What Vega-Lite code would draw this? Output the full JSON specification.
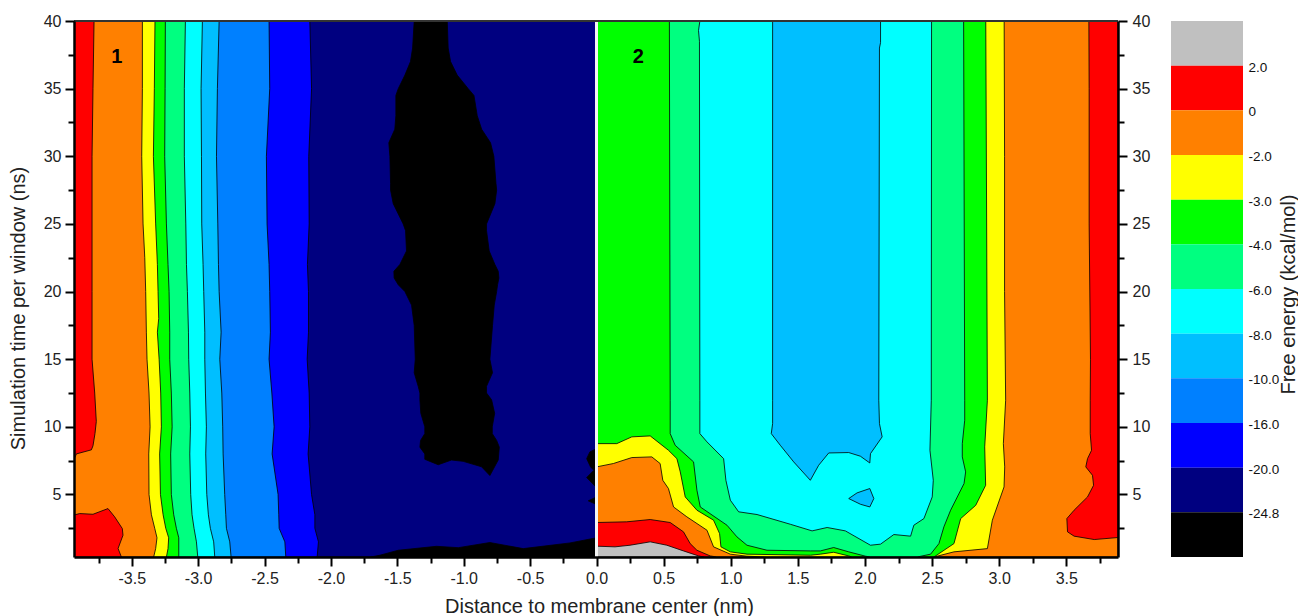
{"$schema":"https://vega.github.io/schema/vega-lite/v6.json","padding":{"left":8,"top":13,"right":0,"bottom":0},"background":"white","bounds":"flush","spacing":53,"config":{"view":{"stroke":null},"font":"Liberation Sans"},
"datasets":{"poly":[
{"p":"bg","l":"red","i":1,"x":-3.935,"y":0.38},{"p":"bg","l":"red","i":2,"x":-3.935,"y":40},{"p":"bg","l":"red","i":3,"x":3.885,"y":40},{"p":"bg","l":"red","i":4,"x":3.885,"y":0.38},
{"p":"Lo","l":"orange","i":1,"x":-3.784,"y":40},{"p":"Lo","l":"orange","i":2,"x":-3.792,"y":35},{"p":"Lo","l":"orange","i":3,"x":-3.799,"y":30},{"p":"Lo","l":"orange","i":4,"x":-3.799,"y":20},{"p":"Lo","l":"orange","i":5,"x":-3.799,"y":15},{"p":"Lo","l":"orange","i":6,"x":-3.779,"y":12.5},{"p":"Lo","l":"orange","i":7,"x":-3.767,"y":10.4},{"p":"Lo","l":"orange","i":8,"x":-3.777,"y":9.5},{"p":"Lo","l":"orange","i":9,"x":-3.792,"y":8.6},{"p":"Lo","l":"orange","i":10,"x":-3.804,"y":8.3},{"p":"Lo","l":"orange","i":11,"x":-3.917,"y":8.0},{"p":"Lo","l":"orange","i":12,"x":-3.93,"y":7.7},{"p":"Lo","l":"orange","i":13,"x":-3.94,"y":3},{"p":"Lo","l":"orange","i":14,"x":-3.94,"y":0.38},{"p":"Lo","l":"orange","i":15,"x":0,"y":0.38},{"p":"Lo","l":"orange","i":16,"x":0,"y":40},
{"p":"Lr","l":"red","i":1,"x":-3.94,"y":0.38},{"p":"Lr","l":"red","i":2,"x":-3.94,"y":3.47},{"p":"Lr","l":"red","i":3,"x":-3.892,"y":3.59},{"p":"Lr","l":"red","i":4,"x":-3.792,"y":3.54},{"p":"Lr","l":"red","i":5,"x":-3.679,"y":3.96},{"p":"Lr","l":"red","i":6,"x":-3.629,"y":3.35},{"p":"Lr","l":"red","i":7,"x":-3.571,"y":2.48},{"p":"Lr","l":"red","i":8,"x":-3.566,"y":1.99},{"p":"Lr","l":"red","i":9,"x":-3.603,"y":1.01},{"p":"Lr","l":"red","i":10,"x":-3.578,"y":0.38},
{"p":"Ly","l":"yellow","i":1,"x":-3.42,"y":40},{"p":"Ly","l":"yellow","i":2,"x":-3.42,"y":35},{"p":"Ly","l":"yellow","i":3,"x":-3.425,"y":30},{"p":"Ly","l":"yellow","i":4,"x":-3.415,"y":25},{"p":"Ly","l":"yellow","i":5,"x":-3.402,"y":22.5},{"p":"Ly","l":"yellow","i":6,"x":-3.395,"y":20},{"p":"Ly","l":"yellow","i":7,"x":-3.39,"y":17},{"p":"Ly","l":"yellow","i":8,"x":-3.385,"y":15},{"p":"Ly","l":"yellow","i":9,"x":-3.37,"y":12.5},{"p":"Ly","l":"yellow","i":10,"x":-3.362,"y":10},{"p":"Ly","l":"yellow","i":11,"x":-3.372,"y":8},{"p":"Ly","l":"yellow","i":12,"x":-3.37,"y":5},{"p":"Ly","l":"yellow","i":13,"x":-3.352,"y":3.5},{"p":"Ly","l":"yellow","i":14,"x":-3.327,"y":2.5},{"p":"Ly","l":"yellow","i":15,"x":-3.31,"y":1.8},{"p":"Ly","l":"yellow","i":16,"x":-3.32,"y":1},{"p":"Ly","l":"yellow","i":17,"x":-3.335,"y":0.38},{"p":"Ly","l":"yellow","i":18,"x":0,"y":0.38},{"p":"Ly","l":"yellow","i":19,"x":0,"y":40},
{"p":"Lg","l":"green","i":1,"x":-3.325,"y":40},{"p":"Lg","l":"green","i":2,"x":-3.33,"y":35},{"p":"Lg","l":"green","i":3,"x":-3.337,"y":30},{"p":"Lg","l":"green","i":4,"x":-3.32,"y":25},{"p":"Lg","l":"green","i":5,"x":-3.307,"y":22},{"p":"Lg","l":"green","i":6,"x":-3.302,"y":20},{"p":"Lg","l":"green","i":7,"x":-3.297,"y":18},{"p":"Lg","l":"green","i":8,"x":-3.307,"y":17},{"p":"Lg","l":"green","i":9,"x":-3.294,"y":15},{"p":"Lg","l":"green","i":10,"x":-3.282,"y":12.5},{"p":"Lg","l":"green","i":11,"x":-3.277,"y":10},{"p":"Lg","l":"green","i":12,"x":-3.29,"y":8},{"p":"Lg","l":"green","i":13,"x":-3.284,"y":5},{"p":"Lg","l":"green","i":14,"x":-3.264,"y":3.5},{"p":"Lg","l":"green","i":15,"x":-3.244,"y":2.5},{"p":"Lg","l":"green","i":16,"x":-3.222,"y":1.8},{"p":"Lg","l":"green","i":17,"x":-3.227,"y":1},{"p":"Lg","l":"green","i":18,"x":-3.239,"y":0.38},{"p":"Lg","l":"green","i":19,"x":0,"y":0.38},{"p":"Lg","l":"green","i":20,"x":0,"y":40},
{"p":"Ls","l":"spring","i":1,"x":-3.247,"y":40},{"p":"Ls","l":"spring","i":2,"x":-3.249,"y":35},{"p":"Ls","l":"spring","i":3,"x":-3.252,"y":30},{"p":"Ls","l":"spring","i":4,"x":-3.239,"y":25},{"p":"Ls","l":"spring","i":5,"x":-3.227,"y":22},{"p":"Ls","l":"spring","i":6,"x":-3.219,"y":20},{"p":"Ls","l":"spring","i":7,"x":-3.214,"y":17},{"p":"Ls","l":"spring","i":8,"x":-3.214,"y":15},{"p":"Ls","l":"spring","i":9,"x":-3.202,"y":12.5},{"p":"Ls","l":"spring","i":10,"x":-3.196,"y":10},{"p":"Ls","l":"spring","i":11,"x":-3.207,"y":8},{"p":"Ls","l":"spring","i":12,"x":-3.202,"y":5},{"p":"Ls","l":"spring","i":13,"x":-3.184,"y":3.5},{"p":"Ls","l":"spring","i":14,"x":-3.164,"y":2.5},{"p":"Ls","l":"spring","i":15,"x":-3.146,"y":1.8},{"p":"Ls","l":"spring","i":16,"x":-3.146,"y":0.38},{"p":"Ls","l":"spring","i":17,"x":0,"y":0.38},{"p":"Ls","l":"spring","i":18,"x":0,"y":40},
{"p":"Lc","l":"cyan","i":1,"x":-3.096,"y":40},{"p":"Lc","l":"cyan","i":2,"x":-3.104,"y":35},{"p":"Lc","l":"cyan","i":3,"x":-3.104,"y":30},{"p":"Lc","l":"cyan","i":4,"x":-3.093,"y":25},{"p":"Lc","l":"cyan","i":5,"x":-3.088,"y":22},{"p":"Lc","l":"cyan","i":6,"x":-3.081,"y":20},{"p":"Lc","l":"cyan","i":7,"x":-3.073,"y":17},{"p":"Lc","l":"cyan","i":8,"x":-3.071,"y":15},{"p":"Lc","l":"cyan","i":9,"x":-3.063,"y":12.5},{"p":"Lc","l":"cyan","i":10,"x":-3.058,"y":10},{"p":"Lc","l":"cyan","i":11,"x":-3.063,"y":8},{"p":"Lc","l":"cyan","i":12,"x":-3.056,"y":5},{"p":"Lc","l":"cyan","i":13,"x":-3.046,"y":3.5},{"p":"Lc","l":"cyan","i":14,"x":-3.031,"y":2.5},{"p":"Lc","l":"cyan","i":15,"x":-3.013,"y":1.5},{"p":"Lc","l":"cyan","i":16,"x":-3.003,"y":0.38},{"p":"Lc","l":"cyan","i":17,"x":0,"y":0.38},{"p":"Lc","l":"cyan","i":18,"x":0,"y":40},
{"p":"Lk","l":"sky","i":1,"x":-2.968,"y":40},{"p":"Lk","l":"sky","i":2,"x":-2.978,"y":35},{"p":"Lk","l":"sky","i":3,"x":-2.975,"y":30},{"p":"Lk","l":"sky","i":4,"x":-2.973,"y":25},{"p":"Lk","l":"sky","i":5,"x":-2.963,"y":22},{"p":"Lk","l":"sky","i":6,"x":-2.958,"y":20},{"p":"Lk","l":"sky","i":7,"x":-2.95,"y":17},{"p":"Lk","l":"sky","i":8,"x":-2.95,"y":15},{"p":"Lk","l":"sky","i":9,"x":-2.945,"y":12.5},{"p":"Lk","l":"sky","i":10,"x":-2.938,"y":10},{"p":"Lk","l":"sky","i":11,"x":-2.943,"y":8},{"p":"Lk","l":"sky","i":12,"x":-2.935,"y":5},{"p":"Lk","l":"sky","i":13,"x":-2.923,"y":3.5},{"p":"Lk","l":"sky","i":14,"x":-2.908,"y":2.5},{"p":"Lk","l":"sky","i":15,"x":-2.883,"y":1.5},{"p":"Lk","l":"sky","i":16,"x":-2.875,"y":0.38},{"p":"Lk","l":"sky","i":17,"x":0,"y":0.38},{"p":"Lk","l":"sky","i":18,"x":0,"y":40},
{"p":"La","l":"azure","i":1,"x":-2.842,"y":40},{"p":"La","l":"azure","i":2,"x":-2.855,"y":35},{"p":"La","l":"azure","i":3,"x":-2.862,"y":30},{"p":"La","l":"azure","i":4,"x":-2.852,"y":25},{"p":"La","l":"azure","i":5,"x":-2.847,"y":22},{"p":"La","l":"azure","i":6,"x":-2.842,"y":20},{"p":"La","l":"azure","i":7,"x":-2.827,"y":17},{"p":"La","l":"azure","i":8,"x":-2.837,"y":15},{"p":"La","l":"azure","i":9,"x":-2.822,"y":12.5},{"p":"La","l":"azure","i":10,"x":-2.815,"y":10},{"p":"La","l":"azure","i":11,"x":-2.812,"y":8},{"p":"La","l":"azure","i":12,"x":-2.8,"y":5},{"p":"La","l":"azure","i":13,"x":-2.792,"y":3.5},{"p":"La","l":"azure","i":14,"x":-2.787,"y":2.5},{"p":"La","l":"azure","i":15,"x":-2.762,"y":1.5},{"p":"La","l":"azure","i":16,"x":-2.752,"y":0.38},{"p":"La","l":"azure","i":17,"x":0,"y":0.38},{"p":"La","l":"azure","i":18,"x":0,"y":40},
{"p":"Lb","l":"blue","i":1,"x":-2.466,"y":40},{"p":"Lb","l":"blue","i":2,"x":-2.461,"y":35},{"p":"Lb","l":"blue","i":3,"x":-2.486,"y":30},{"p":"Lb","l":"blue","i":4,"x":-2.481,"y":25},{"p":"Lb","l":"blue","i":5,"x":-2.466,"y":22},{"p":"Lb","l":"blue","i":6,"x":-2.461,"y":20},{"p":"Lb","l":"blue","i":7,"x":-2.456,"y":17},{"p":"Lb","l":"blue","i":8,"x":-2.466,"y":15},{"p":"Lb","l":"blue","i":9,"x":-2.445,"y":12.5},{"p":"Lb","l":"blue","i":10,"x":-2.428,"y":10},{"p":"Lb","l":"blue","i":11,"x":-2.443,"y":8},{"p":"Lb","l":"blue","i":12,"x":-2.398,"y":5},{"p":"Lb","l":"blue","i":13,"x":-2.393,"y":3.5},{"p":"Lb","l":"blue","i":14,"x":-2.39,"y":2.5},{"p":"Lb","l":"blue","i":15,"x":-2.347,"y":1.5},{"p":"Lb","l":"blue","i":16,"x":-2.34,"y":0.38},{"p":"Lb","l":"blue","i":17,"x":0,"y":0.38},{"p":"Lb","l":"blue","i":18,"x":0,"y":40},
{"p":"Ln","l":"navy","i":1,"x":-2.159,"y":40},{"p":"Ln","l":"navy","i":2,"x":-2.146,"y":35},{"p":"Ln","l":"navy","i":3,"x":-2.167,"y":30},{"p":"Ln","l":"navy","i":4,"x":-2.164,"y":25},{"p":"Ln","l":"navy","i":5,"x":-2.177,"y":22},{"p":"Ln","l":"navy","i":6,"x":-2.169,"y":20},{"p":"Ln","l":"navy","i":7,"x":-2.169,"y":17},{"p":"Ln","l":"navy","i":8,"x":-2.179,"y":15},{"p":"Ln","l":"navy","i":9,"x":-2.164,"y":12.5},{"p":"Ln","l":"navy","i":10,"x":-2.159,"y":10},{"p":"Ln","l":"navy","i":11,"x":-2.172,"y":8},{"p":"Ln","l":"navy","i":12,"x":-2.146,"y":5},{"p":"Ln","l":"navy","i":13,"x":-2.121,"y":3.5},{"p":"Ln","l":"navy","i":14,"x":-2.121,"y":2.5},{"p":"Ln","l":"navy","i":15,"x":-2.094,"y":1.5},{"p":"Ln","l":"navy","i":16,"x":-2.104,"y":0.38},{"p":"Ln","l":"navy","i":17,"x":0,"y":0.38},{"p":"Ln","l":"navy","i":18,"x":0,"y":40},
{"p":"B1","l":"black","i":1,"x":-1.373,"y":40},{"p":"B1","l":"black","i":2,"x":-1.385,"y":38},{"p":"B1","l":"black","i":3,"x":-1.401,"y":37},{"p":"B1","l":"black","i":4,"x":-1.443,"y":36},{"p":"B1","l":"black","i":5,"x":-1.493,"y":35},{"p":"B1","l":"black","i":6,"x":-1.511,"y":34.5},{"p":"B1","l":"black","i":7,"x":-1.511,"y":33},{"p":"B1","l":"black","i":8,"x":-1.519,"y":32},{"p":"B1","l":"black","i":9,"x":-1.564,"y":31},{"p":"B1","l":"black","i":10,"x":-1.556,"y":30},{"p":"B1","l":"black","i":11,"x":-1.551,"y":28},{"p":"B1","l":"black","i":12,"x":-1.551,"y":27.5},{"p":"B1","l":"black","i":13,"x":-1.531,"y":26.5},{"p":"B1","l":"black","i":14,"x":-1.456,"y":25},{"p":"B1","l":"black","i":15,"x":-1.438,"y":24.5},{"p":"B1","l":"black","i":16,"x":-1.431,"y":23},{"p":"B1","l":"black","i":17,"x":-1.481,"y":22},{"p":"B1","l":"black","i":18,"x":-1.526,"y":21.5},{"p":"B1","l":"black","i":19,"x":-1.524,"y":21},{"p":"B1","l":"black","i":20,"x":-1.493,"y":20.5},{"p":"B1","l":"black","i":21,"x":-1.443,"y":20},{"p":"B1","l":"black","i":22,"x":-1.393,"y":19},{"p":"B1","l":"black","i":23,"x":-1.373,"y":17.5},{"p":"B1","l":"black","i":24,"x":-1.365,"y":15},{"p":"B1","l":"black","i":25,"x":-1.373,"y":14},{"p":"B1","l":"black","i":26,"x":-1.343,"y":13},{"p":"B1","l":"black","i":27,"x":-1.33,"y":12.5},{"p":"B1","l":"black","i":28,"x":-1.33,"y":12},{"p":"B1","l":"black","i":29,"x":-1.323,"y":11},{"p":"B1","l":"black","i":30,"x":-1.293,"y":10},{"p":"B1","l":"black","i":31,"x":-1.293,"y":9.5},{"p":"B1","l":"black","i":32,"x":-1.325,"y":9},{"p":"B1","l":"black","i":33,"x":-1.33,"y":8.5},{"p":"B1","l":"black","i":34,"x":-1.293,"y":8},{"p":"B1","l":"black","i":35,"x":-1.293,"y":7.6},{"p":"B1","l":"black","i":36,"x":-1.23,"y":7.35},{"p":"B1","l":"black","i":37,"x":-1.192,"y":7.2},{"p":"B1","l":"black","i":38,"x":-1.092,"y":7.55},{"p":"B1","l":"black","i":39,"x":-1.004,"y":7.45},{"p":"B1","l":"black","i":40,"x":-0.866,"y":7.05},{"p":"B1","l":"black","i":41,"x":-0.803,"y":6.4},{"p":"B1","l":"black","i":42,"x":-0.74,"y":7.55},{"p":"B1","l":"black","i":43,"x":-0.732,"y":8.5},{"p":"B1","l":"black","i":44,"x":-0.752,"y":9},{"p":"B1","l":"black","i":45,"x":-0.785,"y":9.5},{"p":"B1","l":"black","i":46,"x":-0.785,"y":10},{"p":"B1","l":"black","i":47,"x":-0.767,"y":11},{"p":"B1","l":"black","i":48,"x":-0.79,"y":12},{"p":"B1","l":"black","i":49,"x":-0.828,"y":12.5},{"p":"B1","l":"black","i":50,"x":-0.828,"y":13},{"p":"B1","l":"black","i":51,"x":-0.783,"y":14},{"p":"B1","l":"black","i":52,"x":-0.803,"y":15},{"p":"B1","l":"black","i":53,"x":-0.783,"y":17.5},{"p":"B1","l":"black","i":54,"x":-0.77,"y":19},{"p":"B1","l":"black","i":55,"x":-0.752,"y":20},{"p":"B1","l":"black","i":56,"x":-0.745,"y":20.5},{"p":"B1","l":"black","i":57,"x":-0.735,"y":21},{"p":"B1","l":"black","i":58,"x":-0.74,"y":21.5},{"p":"B1","l":"black","i":59,"x":-0.765,"y":22},{"p":"B1","l":"black","i":60,"x":-0.808,"y":23},{"p":"B1","l":"black","i":61,"x":-0.828,"y":24.5},{"p":"B1","l":"black","i":62,"x":-0.828,"y":25},{"p":"B1","l":"black","i":63,"x":-0.765,"y":26.5},{"p":"B1","l":"black","i":64,"x":-0.752,"y":27.5},{"p":"B1","l":"black","i":65,"x":-0.757,"y":28},{"p":"B1","l":"black","i":66,"x":-0.773,"y":30},{"p":"B1","l":"black","i":67,"x":-0.798,"y":31},{"p":"B1","l":"black","i":68,"x":-0.865,"y":32},{"p":"B1","l":"black","i":69,"x":-0.898,"y":33},{"p":"B1","l":"black","i":70,"x":-0.923,"y":34.5},{"p":"B1","l":"black","i":71,"x":-0.966,"y":35},{"p":"B1","l":"black","i":72,"x":-1.049,"y":36},{"p":"B1","l":"black","i":73,"x":-1.099,"y":37},{"p":"B1","l":"black","i":74,"x":-1.117,"y":38},{"p":"B1","l":"black","i":75,"x":-1.124,"y":40},
{"p":"B2","l":"black","i":1,"x":-1.70,"y":0.38},{"p":"B2","l":"black","i":2,"x":-1.632,"y":0.51},{"p":"B2","l":"black","i":3,"x":-1.493,"y":0.88},{"p":"B2","l":"black","i":4,"x":-1.205,"y":1.17},{"p":"B2","l":"black","i":5,"x":-1.041,"y":1.07},{"p":"B2","l":"black","i":6,"x":-0.803,"y":1.45},{"p":"B2","l":"black","i":7,"x":-0.552,"y":1.0},{"p":"B2","l":"black","i":8,"x":-0.2,"y":1.42},{"p":"B2","l":"black","i":9,"x":0,"y":1.8},{"p":"B2","l":"black","i":10,"x":0,"y":0.38},
{"p":"B3","l":"black","i":1,"x":0,"y":8.39},{"p":"B3","l":"black","i":2,"x":-0.05,"y":8.15},{"p":"B3","l":"black","i":3,"x":-0.074,"y":7.65},{"p":"B3","l":"black","i":4,"x":-0.045,"y":7.04},{"p":"B3","l":"black","i":5,"x":-0.02,"y":6.79},{"p":"B3","l":"black","i":6,"x":-0.074,"y":6.25},{"p":"B3","l":"black","i":7,"x":0,"y":5.51},
{"p":"B4","l":"black","i":1,"x":0,"y":4.82},{"p":"B4","l":"black","i":2,"x":-0.062,"y":4.53},{"p":"B4","l":"black","i":3,"x":0,"y":4.26},
{"p":"Rg","l":"grey","i":1,"x":0,"y":0.38},{"p":"Rg","l":"grey","i":2,"x":0,"y":1.18},{"p":"Rg","l":"grey","i":3,"x":0.138,"y":1.13},{"p":"Rg","l":"grey","i":4,"x":0.25,"y":1.25},{"p":"Rg","l":"grey","i":5,"x":0.4,"y":1.5},{"p":"Rg","l":"grey","i":6,"x":0.524,"y":1.25},{"p":"Rg","l":"grey","i":7,"x":0.648,"y":0.83},{"p":"Rg","l":"grey","i":8,"x":0.76,"y":0.46},{"p":"Rg","l":"grey","i":9,"x":0.8,"y":0.38},
{"p":"Ro","l":"orange","i":1,"x":0,"y":40},{"p":"Ro","l":"orange","i":2,"x":0,"y":2.93},{"p":"Ro","l":"orange","i":3,"x":0.225,"y":2.98},{"p":"Ro","l":"orange","i":4,"x":0.4,"y":3.15},{"p":"Ro","l":"orange","i":5,"x":0.549,"y":2.93},{"p":"Ro","l":"orange","i":6,"x":0.648,"y":2.24},{"p":"Ro","l":"orange","i":7,"x":0.698,"y":1.37},{"p":"Ro","l":"orange","i":8,"x":0.748,"y":0.88},{"p":"Ro","l":"orange","i":9,"x":0.847,"y":0.46},{"p":"Ro","l":"orange","i":10,"x":0.897,"y":0.38},{"p":"Ro","l":"orange","i":11,"x":3.885,"y":0.38},{"p":"Ro","l":"orange","i":12,"x":3.885,"y":1.82},{"p":"Ro","l":"orange","i":13,"x":3.708,"y":1.67},{"p":"Ro","l":"orange","i":14,"x":3.558,"y":1.92},{"p":"Ro","l":"orange","i":15,"x":3.509,"y":2.24},{"p":"Ro","l":"orange","i":16,"x":3.504,"y":3.22},{"p":"Ro","l":"orange","i":17,"x":3.558,"y":3.84},{"p":"Ro","l":"orange","i":18,"x":3.658,"y":4.82},{"p":"Ro","l":"orange","i":19,"x":3.703,"y":5.68},{"p":"Ro","l":"orange","i":20,"x":3.695,"y":6.42},{"p":"Ro","l":"orange","i":21,"x":3.645,"y":7.04},{"p":"Ro","l":"orange","i":22,"x":3.658,"y":7.65},{"p":"Ro","l":"orange","i":23,"x":3.688,"y":8.27},{"p":"Ro","l":"orange","i":24,"x":3.678,"y":9.5},{"p":"Ro","l":"orange","i":25,"x":3.678,"y":11.97},{"p":"Ro","l":"orange","i":26,"x":3.68,"y":15},{"p":"Ro","l":"orange","i":27,"x":3.67,"y":25},{"p":"Ro","l":"orange","i":28,"x":3.67,"y":35},{"p":"Ro","l":"orange","i":29,"x":3.668,"y":40},
{"p":"Ry","l":"yellow","i":1,"x":0,"y":40},{"p":"Ry","l":"yellow","i":2,"x":0,"y":7.04},{"p":"Ry","l":"yellow","i":3,"x":0.126,"y":7.29},{"p":"Ry","l":"yellow","i":4,"x":0.263,"y":7.73},{"p":"Ry","l":"yellow","i":5,"x":0.412,"y":7.78},{"p":"Ry","l":"yellow","i":6,"x":0.474,"y":7.29},{"p":"Ry","l":"yellow","i":7,"x":0.494,"y":6.05},{"p":"Ry","l":"yellow","i":8,"x":0.536,"y":5.44},{"p":"Ry","l":"yellow","i":9,"x":0.574,"y":4.08},{"p":"Ry","l":"yellow","i":10,"x":0.673,"y":3.35},{"p":"Ry","l":"yellow","i":11,"x":0.823,"y":2.36},{"p":"Ry","l":"yellow","i":12,"x":0.872,"y":1.13},{"p":"Ry","l":"yellow","i":13,"x":0.997,"y":0.59},{"p":"Ry","l":"yellow","i":14,"x":1.12,"y":0.44},{"p":"Ry","l":"yellow","i":15,"x":1.27,"y":0.38},{"p":"Ry","l":"yellow","i":16,"x":2.514,"y":0.38},{"p":"Ry","l":"yellow","i":17,"x":2.663,"y":0.76},{"p":"Ry","l":"yellow","i":18,"x":2.912,"y":1.0},{"p":"Ry","l":"yellow","i":19,"x":2.949,"y":3.1},{"p":"Ry","l":"yellow","i":20,"x":3.036,"y":5.56},{"p":"Ry","l":"yellow","i":21,"x":3.041,"y":7.04},{"p":"Ry","l":"yellow","i":22,"x":3.031,"y":8.76},{"p":"Ry","l":"yellow","i":23,"x":3.048,"y":11.97},{"p":"Ry","l":"yellow","i":24,"x":3.04,"y":20},{"p":"Ry","l":"yellow","i":25,"x":3.04,"y":30},{"p":"Ry","l":"yellow","i":26,"x":3.037,"y":40},
{"p":"Rh","l":"green","i":1,"x":0,"y":40},{"p":"Rh","l":"green","i":2,"x":0,"y":8.76},{"p":"Rh","l":"green","i":3,"x":0.151,"y":8.76},{"p":"Rh","l":"green","i":4,"x":0.263,"y":9.26},{"p":"Rh","l":"green","i":5,"x":0.4,"y":9.33},{"p":"Rh","l":"green","i":6,"x":0.536,"y":8.27},{"p":"Rh","l":"green","i":7,"x":0.599,"y":7.65},{"p":"Rh","l":"green","i":8,"x":0.624,"y":6.67},{"p":"Rh","l":"green","i":9,"x":0.661,"y":4.82},{"p":"Rh","l":"green","i":10,"x":0.748,"y":3.84},{"p":"Rh","l":"green","i":11,"x":0.872,"y":3.1},{"p":"Rh","l":"green","i":12,"x":0.917,"y":2.11},{"p":"Rh","l":"green","i":13,"x":0.927,"y":1.13},{"p":"Rh","l":"green","i":14,"x":0.997,"y":0.76},{"p":"Rh","l":"green","i":15,"x":1.121,"y":0.59},{"p":"Rh","l":"green","i":16,"x":1.594,"y":0.51},{"p":"Rh","l":"green","i":17,"x":1.668,"y":0.59},{"p":"Rh","l":"green","i":18,"x":1.767,"y":0.73},{"p":"Rh","l":"green","i":19,"x":1.879,"y":0.46},{"p":"Rh","l":"green","i":20,"x":1.904,"y":0.38},{"p":"Rh","l":"green","i":21,"x":2.514,"y":0.38},{"p":"Rh","l":"green","i":22,"x":2.663,"y":1.37},{"p":"Rh","l":"green","i":23,"x":2.713,"y":3.22},{"p":"Rh","l":"green","i":24,"x":2.825,"y":4.2},{"p":"Rh","l":"green","i":25,"x":2.899,"y":5.68},{"p":"Rh","l":"green","i":26,"x":2.892,"y":8.52},{"p":"Rh","l":"green","i":27,"x":2.912,"y":11.97},{"p":"Rh","l":"green","i":28,"x":2.9,"y":40},
{"p":"Rs","l":"spring","i":1,"x":0.543,"y":40},{"p":"Rs","l":"spring","i":2,"x":0.549,"y":11.97},{"p":"Rs","l":"spring","i":3,"x":0.549,"y":9.5},{"p":"Rs","l":"spring","i":4,"x":0.586,"y":8.64},{"p":"Rs","l":"spring","i":5,"x":0.723,"y":7.41},{"p":"Rs","l":"spring","i":6,"x":0.748,"y":5.32},{"p":"Rs","l":"spring","i":7,"x":0.773,"y":4.08},{"p":"Rs","l":"spring","i":8,"x":0.972,"y":2.73},{"p":"Rs","l":"spring","i":9,"x":1.046,"y":1.87},{"p":"Rs","l":"spring","i":10,"x":1.121,"y":1.25},{"p":"Rs","l":"spring","i":11,"x":1.27,"y":0.88},{"p":"Rs","l":"spring","i":12,"x":1.594,"y":0.83},{"p":"Rs","l":"spring","i":13,"x":1.668,"y":0.83},{"p":"Rs","l":"spring","i":14,"x":1.767,"y":1.08},{"p":"Rs","l":"spring","i":15,"x":1.879,"y":0.76},{"p":"Rs","l":"spring","i":16,"x":2.004,"y":0.44},{"p":"Rs","l":"spring","i":17,"x":2.041,"y":0.38},{"p":"Rs","l":"spring","i":18,"x":2.389,"y":0.38},{"p":"Rs","l":"spring","i":19,"x":2.489,"y":0.59},{"p":"Rs","l":"spring","i":20,"x":2.551,"y":1.37},{"p":"Rs","l":"spring","i":21,"x":2.588,"y":2.61},{"p":"Rs","l":"spring","i":22,"x":2.638,"y":3.84},{"p":"Rs","l":"spring","i":23,"x":2.738,"y":5.81},{"p":"Rs","l":"spring","i":24,"x":2.75,"y":6.67},{"p":"Rs","l":"spring","i":25,"x":2.725,"y":7.78},{"p":"Rs","l":"spring","i":26,"x":2.725,"y":8.76},{"p":"Rs","l":"spring","i":27,"x":2.743,"y":10.49},{"p":"Rs","l":"spring","i":28,"x":2.743,"y":11.97},{"p":"Rs","l":"spring","i":29,"x":2.735,"y":40},
{"p":"Rc","l":"cyan","i":1,"x":0.77,"y":40},{"p":"Rc","l":"cyan","i":2,"x":0.76,"y":39.3},{"p":"Rc","l":"cyan","i":3,"x":0.767,"y":38.5},{"p":"Rc","l":"cyan","i":4,"x":0.77,"y":11.97},{"p":"Rc","l":"cyan","i":5,"x":0.77,"y":9.5},{"p":"Rc","l":"cyan","i":6,"x":0.823,"y":8.89},{"p":"Rc","l":"cyan","i":7,"x":0.947,"y":7.65},{"p":"Rc","l":"cyan","i":8,"x":0.964,"y":6.05},{"p":"Rc","l":"cyan","i":9,"x":0.997,"y":4.58},{"p":"Rc","l":"cyan","i":10,"x":1.059,"y":3.72},{"p":"Rc","l":"cyan","i":11,"x":1.196,"y":3.52},{"p":"Rc","l":"cyan","i":12,"x":1.444,"y":2.8},{"p":"Rc","l":"cyan","i":13,"x":1.606,"y":2.31},{"p":"Rc","l":"cyan","i":14,"x":1.718,"y":2.56},{"p":"Rc","l":"cyan","i":15,"x":1.854,"y":2.31},{"p":"Rc","l":"cyan","i":16,"x":2.041,"y":1.25},{"p":"Rc","l":"cyan","i":17,"x":2.116,"y":1.33},{"p":"Rc","l":"cyan","i":18,"x":2.215,"y":2.04},{"p":"Rc","l":"cyan","i":19,"x":2.34,"y":1.92},{"p":"Rc","l":"cyan","i":20,"x":2.364,"y":2.73},{"p":"Rc","l":"cyan","i":21,"x":2.439,"y":3.22},{"p":"Rc","l":"cyan","i":22,"x":2.501,"y":4.82},{"p":"Rc","l":"cyan","i":23,"x":2.509,"y":6.05},{"p":"Rc","l":"cyan","i":24,"x":2.484,"y":8.27},{"p":"Rc","l":"cyan","i":25,"x":2.494,"y":11.97},{"p":"Rc","l":"cyan","i":26,"x":2.496,"y":40},
{"p":"Rk","l":"sky","i":1,"x":1.312,"y":40},{"p":"Rk","l":"sky","i":2,"x":1.312,"y":11.97},{"p":"Rk","l":"sky","i":3,"x":1.312,"y":10.24},{"p":"Rk","l":"sky","i":4,"x":1.302,"y":9.5},{"p":"Rk","l":"sky","i":5,"x":1.369,"y":8.64},{"p":"Rk","l":"sky","i":6,"x":1.469,"y":7.41},{"p":"Rk","l":"sky","i":7,"x":1.593,"y":6.05},{"p":"Rk","l":"sky","i":8,"x":1.655,"y":7.16},{"p":"Rk","l":"sky","i":9,"x":1.73,"y":8.07},{"p":"Rk","l":"sky","i":10,"x":1.879,"y":8.1},{"p":"Rk","l":"sky","i":11,"x":1.966,"y":7.83},{"p":"Rk","l":"sky","i":12,"x":2.036,"y":7.33},{"p":"Rk","l":"sky","i":13,"x":2.041,"y":8.02},{"p":"Rk","l":"sky","i":14,"x":2.128,"y":9.26},{"p":"Rk","l":"sky","i":15,"x":2.108,"y":10.24},{"p":"Rk","l":"sky","i":16,"x":2.103,"y":11.97},{"p":"Rk","l":"sky","i":17,"x":2.108,"y":38},{"p":"Rk","l":"sky","i":18,"x":2.116,"y":38.4},{"p":"Rk","l":"sky","i":19,"x":2.116,"y":40},
{"p":"Ri","l":"sky","i":1,"x":1.879,"y":4.7},{"p":"Ri","l":"sky","i":2,"x":1.941,"y":5.12},{"p":"Ri","l":"sky","i":3,"x":2.036,"y":5.44},{"p":"Ri","l":"sky","i":4,"x":2.066,"y":4.7},{"p":"Ri","l":"sky","i":5,"x":2.036,"y":4.08},{"p":"Ri","l":"sky","i":6,"x":1.966,"y":4.28},{"p":"Ri","l":"sky","i":7,"x":1.879,"y":4.7}
],
"bar":[{"l":"grey","lo":11,"hi":12},{"l":"red","lo":10,"hi":11},{"l":"orange","lo":9,"hi":10},{"l":"yellow","lo":8,"hi":9},{"l":"green","lo":7,"hi":8},{"l":"spring","lo":6,"hi":7},{"l":"cyan","lo":5,"hi":6},{"l":"sky","lo":4,"hi":5},{"l":"azure","lo":3,"hi":4},{"l":"blue","lo":2,"hi":3},{"l":"navy","lo":1,"hi":2},{"l":"black","lo":0,"hi":1}],
"tags":[{"x":-3.613,"y":37.34,"t":"1"},{"x":0.312,"y":37.34,"t":"2"}]},
"hconcat":[
{"width":1044,"height":536,"layer":[
{"data":{"name":"poly"},"mark":{"type":"line","stroke":"#000000","strokeWidth":0.8,"clip":true,"interpolate":"linear-closed"},
"encoding":{
"x":{"field":"x","type":"quantitative","scale":{"domain":[-3.935,0,3.885],"range":[0,522.5,1044],"nice":false,"zero":false},
"axis":{"title":"Distance to membrane center (nm)","values":[-3.5,-3,-2.5,-2,-1.5,-1,-0.5,0,0.5,1,1.5,2,2.5,3,3.5],"labelExpr":"(datum.value < 0 ? '-' : '') + format(abs(datum.value),'.1f')","labelFlush":false,"grid":false,"labelFontSize":16,"labelColor":"#222222","titleFontSize":20,"titleFontWeight":"normal","titleColor":"#222222","titleBaseline":"middle","titleX":525,"titleY":49.5,"domainColor":"#000000","domainWidth":2.5,"tickColor":"#000000","tickWidth":2,"tickSize":9,"labelPadding":4,"labelOverlap":false,"zindex":1}},
"y":{"field":"y","type":"quantitative","scale":{"domain":[0.38,40],"nice":false,"zero":false},
"axis":{"title":"Simulation time per window (ns)","values":[2.5,5,7.5,10,12.5,15,17.5,20,22.5,25,27.5,30,32.5,35,37.5,40],"labelExpr":"datum.value % 5 == 0 ? datum.value : ''","grid":false,"labelFontSize":16,"labelColor":"#222222","titleFontSize":20,"titleFontWeight":"normal","titleColor":"#222222","titleBaseline":"middle","titleX":-56,"titleY":287,"domainColor":"#000000","domainWidth":2.5,"tickColor":"#000000","tickWidth":2,"tickSize":{"condition":{"test":"datum.value % 5 == 0","value":9},"value":6},"labelPadding":4,"labelOverlap":false,"zindex":1}},
"fill":{"field":"l","type":"nominal","legend":null,"scale":{"domain":["grey","red","orange","yellow","green","spring","cyan","sky","azure","blue","navy","black"],"range":["#C0C0C0","#FF0000","#FF8000","#FFFF00","#00FF00","#00FF80","#00FFFF","#00BFFF","#0080FF","#0000FF","#000080","#000000"]}},
"detail":{"field":"p"},"order":{"field":"i","type":"quantitative"}}},
{"data":{"values":[{"x":0}]},"mark":{"type":"rule","stroke":"#F4F4F4","strokeWidth":3},"encoding":{"x":{"field":"x","type":"quantitative","scale":{"domain":[-3.935,0,3.885],"range":[0,522.5,1044],"nice":false,"zero":false},"axis":{"title":null,"orient":"bottom","values":[-3.75,-3.25,-2.75,-2.25,-1.75,-1.25,-0.75,-0.25,0.25,0.75,1.25,1.75,2.25,2.75,3.25,3.75],"labels":false,"grid":false,"domain":false,"tickColor":"#000000","tickWidth":2,"tickSize":6,"zindex":1}}}},
{"data":{"name":"tags"},"mark":{"type":"text","font":"Liberation Sans","fontWeight":"bold","fontSize":20,"color":"#000000"},"encoding":{"x":{"field":"x","type":"quantitative","axis":null,"scale":{"domain":[-3.935,0,3.885],"range":[0,522.5,1044],"nice":false,"zero":false}},"y":{"field":"y","type":"quantitative","axis":null,"scale":{"domain":[0.38,40],"nice":false,"zero":false}},"text":{"field":"t"}}},
{"data":{"values":[{"y":40}]},"mark":{"type":"rule","stroke":"#333333","strokeWidth":2},"encoding":{"y":{"field":"y","type":"quantitative","scale":{"domain":[0.38,40],"nice":false,"zero":false},"axis":{"orient":"right","title":null,"values":[2.5,5,7.5,10,12.5,15,17.5,20,22.5,25,27.5,30,32.5,35,37.5,40],"labelExpr":"datum.value % 5 == 0 ? datum.value : ''","grid":false,"labelFontSize":16,"labelColor":"#222222","domainColor":"#000000","domainWidth":2.5,"tickColor":"#000000","tickWidth":2,"tickSize":{"condition":{"test":"datum.value % 5 == 0","value":9},"value":6},"labelPadding":5,"labelOverlap":false,"zindex":1}}}}
],"resolve":{"scale":{"x":"independent","y":"independent"},"axis":{"x":"independent","y":"independent"}}},
{"width":72,"height":536,"data":{"name":"bar"},"mark":{"type":"rect"},"encoding":{
"y":{"field":"lo","type":"quantitative","scale":{"domain":[0,12],"nice":false,"zero":false},"axis":{"orient":"right","title":"Free energy (kcal/mol)","titleAngle":270,"titleFontSize":20,"titleFontWeight":"normal","titleColor":"#222222","titleBaseline":"middle","titleX":45,"titleY":273,"values":[1,2,3,4,5,6,7,8,9,10,11],"labelExpr":"['-24.8','-20.0','-16.0','-10.0','-8.0','-6.0','-4.0','-3.0','-2.0','0','2.0'][datum.value-1]","ticks":false,"domain":false,"grid":false,"labelFontSize":13.5,"labelColor":"#111111","labelPadding":5,"labelOffset":1.5,"labelOverlap":false}},
"y2":{"field":"hi"},
"fill":{"field":"l","type":"nominal","legend":null,"scale":{"domain":["grey","red","orange","yellow","green","spring","cyan","sky","azure","blue","navy","black"],"range":["#C0C0C0","#FF0000","#FF8000","#FFFF00","#00FF00","#00FF80","#00FFFF","#00BFFF","#0080FF","#0000FF","#000080","#000000"]}}}}
]}
